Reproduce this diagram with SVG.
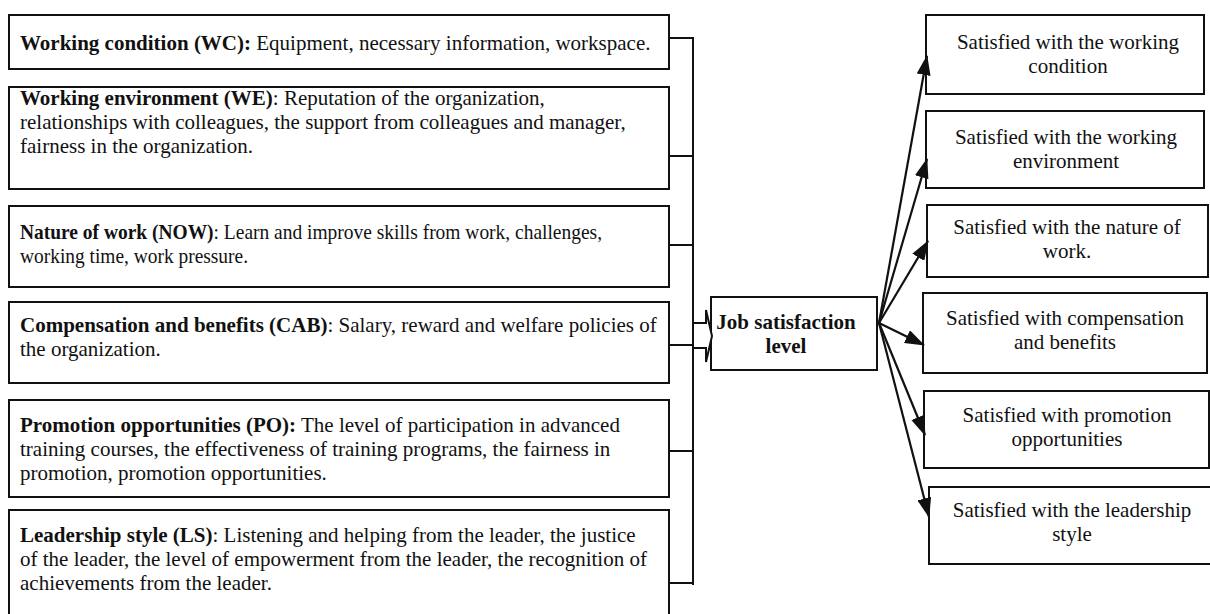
<svg xmlns="http://www.w3.org/2000/svg" width="1210" height="614" viewBox="0 0 1210 614" font-family="'Liberation Serif', serif">
  <style>
    .box { fill: #fff; stroke: #111; stroke-width: 2; }
    text { font-family: "Liberation Serif", serif; font-size: 21px; fill: #111; }
    .b { font-weight: bold; }
    .mid { text-anchor: middle; }
    .wire { fill: none; stroke: #111; stroke-width: 2; }
    .arr { fill: none; stroke: #111; stroke-width: 2.2; marker-end: url(#head); }
  </style>
  <defs>
    <marker id="head" viewBox="0 0 20 14" refX="19" refY="7" markerWidth="20" markerHeight="14" markerUnits="userSpaceOnUse" orient="auto">
      <path d="M0,0 L20,7 L0,14 Z" fill="#111"/>
    </marker>
  </defs>
  <rect width="1210" height="614" fill="#fff"/>

  <!-- factor boxes -->
  <g id="wc">
    <rect class="box" x="9" y="15" width="660" height="54"/>
    <text x="20" y="50"><tspan class="b">Working condition (WC):</tspan> Equipment, necessary information, workspace.</text>
  </g>
  <g id="we">
    <rect class="box" x="9" y="87" width="660" height="102"/>
    <text x="20" y="105"><tspan class="b">Working environment (WE)</tspan>: Reputation of the organization,</text>
    <text x="20" y="129">relationships with colleagues, the support from colleagues and manager,</text>
    <text x="20" y="153">fairness in the organization.</text>
  </g>
  <g id="now">
    <rect class="box" x="9" y="206" width="660" height="81"/>
    <text x="20" y="239" textLength="582" lengthAdjust="spacingAndGlyphs"><tspan class="b">Nature of work (NOW)</tspan>: Learn and improve skills from work, challenges,</text>
    <text x="20" y="263" textLength="228" lengthAdjust="spacingAndGlyphs">working time, work pressure.</text>
  </g>
  <g id="cab">
    <rect class="box" x="9" y="302" width="660" height="81"/>
    <text x="20" y="332"><tspan class="b">Compensation and benefits (CAB)</tspan>: Salary, reward and welfare policies of</text>
    <text x="20" y="356">the organization.</text>
  </g>
  <g id="po">
    <rect class="box" x="9" y="400" width="660" height="97"/>
    <text x="20" y="432"><tspan class="b">Promotion opportunities (PO):</tspan> The level of participation in advanced</text>
    <text x="20" y="456">training courses, the effectiveness of training programs, the fairness in</text>
    <text x="20" y="480">promotion, promotion opportunities.</text>
  </g>
  <g id="ls">
    <rect class="box" x="9" y="510" width="660" height="112"/>
    <text x="20" y="542"><tspan class="b">Leadership style (LS)</tspan>: Listening and helping from the leader, the justice</text>
    <text x="20" y="566">of the leader, the level of empowerment from the leader, the recognition of</text>
    <text x="20" y="590">achievements from the leader.</text>
  </g>

  <!-- central node -->
  <g id="job">
    <rect class="box" x="711" y="297" width="166" height="73"/>
    <text class="b mid" x="786" y="329">Job satisfaction</text>
    <text class="b mid" x="786" y="353">level</text>
  </g>

  <!-- outcome boxes -->
  <g id="s-wc">
    <rect class="box" x="926" y="15" width="278" height="79"/>
    <text class="mid" x="1068" y="49">Satisfied with the working</text>
    <text class="mid" x="1068" y="73">condition</text>
  </g>
  <g id="s-we">
    <rect class="box" x="926" y="111" width="278" height="77"/>
    <text class="mid" x="1066" y="144">Satisfied with the working</text>
    <text class="mid" x="1066" y="168">environment</text>
  </g>
  <g id="s-now">
    <rect class="box" x="927" y="205" width="281" height="72"/>
    <text class="mid" x="1067" y="234">Satisfied with the nature of</text>
    <text class="mid" x="1067" y="258">work.</text>
  </g>
  <g id="s-cab">
    <rect class="box" x="923" y="293" width="284" height="80"/>
    <text class="mid" x="1065" y="325">Satisfied with compensation</text>
    <text class="mid" x="1065" y="349">and benefits</text>
  </g>
  <g id="s-po">
    <rect class="box" x="924" y="391" width="285" height="77"/>
    <text class="mid" x="1067" y="422">Satisfied with promotion</text>
    <text class="mid" x="1067" y="446">opportunities</text>
  </g>
  <g id="s-ls">
    <rect class="box" x="929" y="487" width="285" height="77"/>
    <text class="mid" x="1072" y="517">Satisfied with the leadership</text>
    <text class="mid" x="1072" y="541">style</text>
  </g>

  <!-- connectors -->
  <g id="connectors">
    <path class="wire" d="M669,38 H693 M669,156 H693 M669,245 H693 M669,345 H693 M669,451 H693 M669,583 H693 M693,37 V585"/>
    <path class="wire" style="fill:#fff" d="M693,323 H706 V310 L712,336 L706,362 V348 H693 Z"/>
    <path class="arr" d="M879,323 L927,56"/>
    <path class="arr" d="M879,323 L927,159"/>
    <path class="arr" d="M879,323 L928,241"/>
    <path class="arr" d="M879,323 L924,345"/>
    <path class="arr" d="M879,323 L925,435"/>
    <path class="arr" d="M879,323 L929,517"/>
  </g>
</svg>
